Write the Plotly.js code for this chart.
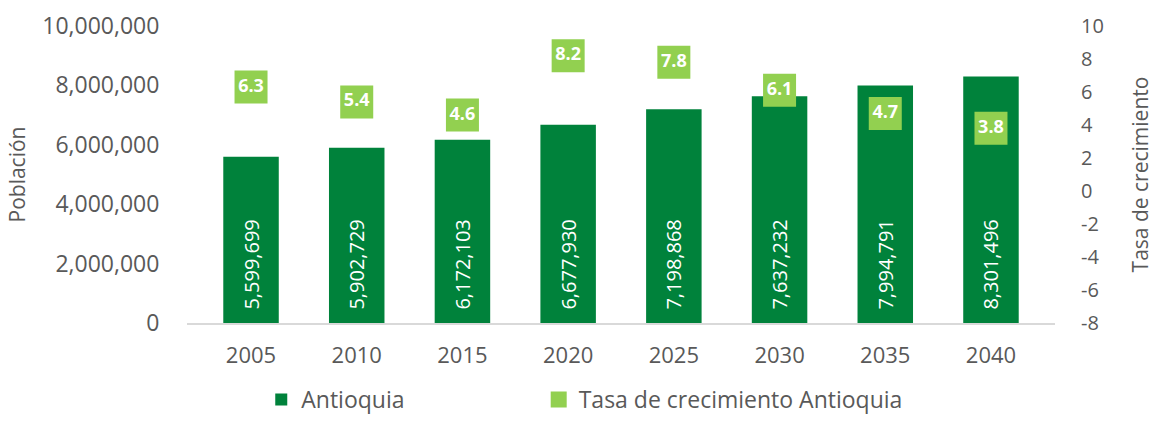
<!DOCTYPE html>
<html>
<head>
<meta charset="utf-8">
<script src="https://cdn.plot.ly/plotly-3.0.1.min.js"></script>
<style>html,body{margin:0;padding:0;background:#fff;}#chart{width:1156px;height:421px;}</style>
</head>
<body>
<div id="chart"></div>
<script>
const years = ['2005', '2010', '2015', '2020', '2025', '2030', '2035', '2040'];
const poblacion = [5599699, 5902729, 6172103, 6677930, 7198868, 7637232, 7994791, 8301496];
const tasa = [6.3, 5.4, 4.6, 8.2, 7.8, 6.1, 4.7, 3.8];
const seriesNames = ['Antioquia', 'Tasa de crecimiento Antioquia'];
const tasaTickVals = [-8, -6, -4, -2, 0, 2, 4, 6, 8, 10];
const tasaTickText = ['-8', '-6', '-4', '-2', '0', '2', '4', '6', '8', '10'];

const FONT = 'Open Sans, sans-serif';
const GREY = '#595959';
const DARK = '#00823b';
const LIGHT = '#92d050';

const traces = [
  {
    type: 'bar',
    name: seriesNames[0],
    legend: 'legend',
    x: years,
    y: poblacion,
    marker: {color: DARK},
    text: poblacion.map(v => '\u00a0\u00a0' + v.toLocaleString('en-US')),
    textposition: 'inside',
    insidetextanchor: 'start',
    textangle: -90,
    constraintext: 'none',
    textfont: {family: FONT, size: 20, color: '#ffffff'},
    hoverinfo: 'x+y'
  },
  {
    type: 'scatter',
    mode: 'markers+text',
    name: seriesNames[1],
    legend: 'legend2',
    x: years,
    y: tasa,
    yaxis: 'y2',
    marker: {symbol: 'square', size: 33, color: LIGHT},
    text: tasa.map(v => '<b>' + v.toFixed(1) + '</b>'),
    textposition: 'middle center',
    textfont: {family: FONT, size: 18, color: '#ffffff'},
    cliponaxis: false
  }
];

const legendBase = {
  orientation: 'h',
  xref: 'container',
  yref: 'container',
  xanchor: 'left',
  yanchor: 'bottom',
  y: 0,
  bgcolor: 'rgba(0,0,0,0)',
  font: {family: FONT, size: 23, color: GREY},
  itemwidth: 30
};

const layout = {
  width: 1156,
  height: 421,
  margin: {l: 187, r: 101, t: 26, b: 98},
  paper_bgcolor: '#ffffff',
  plot_bgcolor: '#ffffff',
  font: {family: FONT, color: GREY},
  bargap: 0.475,
  showlegend: true,
  legend: Object.assign({}, legendBase, {x: 0.226}),
  legend2: Object.assign({}, legendBase, {x: 0.466}),
  xaxis: {
    type: 'category',
    showgrid: false,
    showline: true,
    linecolor: '#d9d9d9',
    linewidth: 1.5,
    ticks: 'outside',
    ticklen: 12,
    tickcolor: 'rgba(0,0,0,0)',
    tickfont: {family: FONT, size: 22, color: GREY},
    zeroline: false
  },
  yaxis: {
    range: [0, 10000000],
    dtick: 2000000,
    tickformat: ',d',
    showgrid: false,
    zeroline: false,
    showline: false,
    ticks: 'outside',
    ticklen: 22,
    tickcolor: 'rgba(0,0,0,0)',
    tickfont: {family: FONT, size: 23, color: GREY},
    title: {text: 'Población', font: {family: FONT, size: 21, color: GREY}, standoff: 10}
  },
  yaxis2: {
    overlaying: 'y',
    side: 'right',
    range: [-8, 10],
    tickmode: 'array',
    tickvals: tasaTickVals,
    ticktext: tasaTickText,
    showgrid: false,
    zeroline: false,
    showline: false,
    ticks: 'outside',
    ticklen: 21,
    tickcolor: 'rgba(0,0,0,0)',
    tickfont: {family: FONT, size: 20, color: GREY},
    title: {text: 'Tasa de crecimiento', font: {family: FONT, size: 21, color: GREY}, standoff: 30}
  }
};

Plotly.newPlot('chart', traces, layout, {displayModeBar: false, responsive: false});
</script>
</body>
</html>
